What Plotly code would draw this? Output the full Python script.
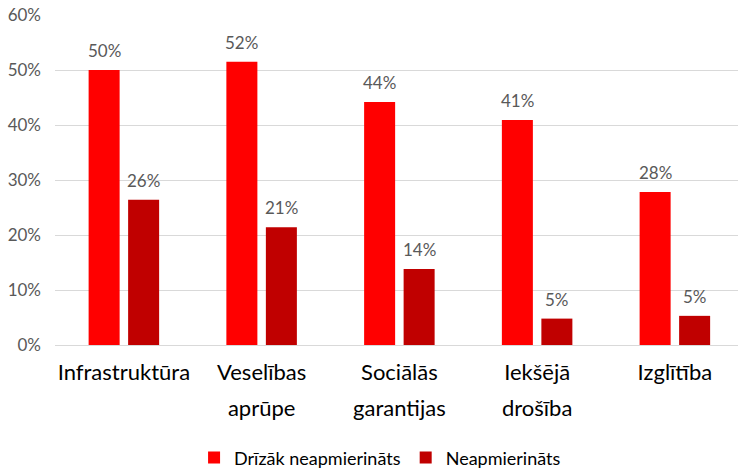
import plotly.graph_objects as go

categories = ["Infrastruktūra", "Veselības<br>aprūpe", "Sociālās<br>garantijas", "Iekšējā<br>drošība", "Izglītība"]
series_names = ["Drīzāk neapmierināts", "Neapmierināts"]
drizak = [50.0, 51.5, 44.2, 40.9, 27.8]
neapm = [26.4, 21.4, 13.8, 4.8, 5.3]
labels_drizak = ["50%", "52%", "44%", "41%", "28%"]
labels_neapm = ["26%", "21%", "14%", "5%", "5%"]
colors = ["#FF0000", "#C00000"]
y_ticks = [0, 10, 20, 30, 40, 50, 60]

FONT = "Lato"
xpos = list(range(len(categories)))

def wrap(lbl, size=22):
    return "<br>".join(f"<span style='font-size:{size}px'>{p}</span>" for p in lbl.split("<br>"))

fig = go.Figure()
for name, vals, col in zip(series_names, [drizak, neapm], colors):
    fig.add_trace(go.Bar(x=xpos, y=vals, name=name, marker=dict(color=col, line=dict(width=0))))

W, H = 738, 471
ml, mr, mt, mb = 55, 0, 15, 126
plot_w = W - ml - mr
cat_px = 137.75
rng_hi = -0.5 + plot_w / cat_px
bargap = 0.4265
bargroupgap = 0.215
slot = (1 - bargap) / 2

annots = []
for k, (vals, labs) in enumerate([(drizak, labels_drizak), (neapm, labels_neapm)]):
    off = (-0.5 + k) * slot
    for i, (v, t) in enumerate(zip(vals, labs)):
        annots.append(dict(x=i + off, y=v, text=t, xref="x", yref="y", showarrow=False,
                           yanchor="bottom", yshift=7,
                           font=dict(family=FONT, size=17, color="#595959")))

fig.update_layout(
    width=W, height=H,
    margin=dict(l=ml, r=mr, t=mt, b=mb, autoexpand=False),
    paper_bgcolor="white", plot_bgcolor="white",
    barmode="group", bargap=bargap, bargroupgap=bargroupgap,
    font=dict(family=FONT, color="#595959"),
    showlegend=True,
    legend=dict(orientation="h", xref="container", yref="container",
                x=0.515, xanchor="center", y=0.028, yanchor="middle",
                font=dict(family=FONT, size=18, color="#000000"), itemwidth=30),
    annotations=annots,
    xaxis=dict(range=[-0.5, rng_hi], tickmode="array", tickvals=xpos,
               ticktext=[wrap(c) for c in categories],
               tickfont=dict(family=FONT, size=28, color="#000000"),
               showgrid=False, showline=True, linecolor="#D9D9D9", linewidth=1,
               ticks="", zeroline=False, automargin=False),
    yaxis=dict(range=[0, 60], tickmode="array", tickvals=y_ticks,
               ticktext=[f"{v}%" for v in y_ticks],
               tickfont=dict(family=FONT, size=17, color="#595959"),
               showgrid=True, gridcolor="#D9D9D9", gridwidth=1,
               zeroline=False, showline=False, ticks="", ticklabelstandoff=13,
               automargin=False),
)

fig.write_html("out.html", config={"displayModeBar": False},
               post_script="document.body.style.margin='0';document.body.style.padding='0';")
